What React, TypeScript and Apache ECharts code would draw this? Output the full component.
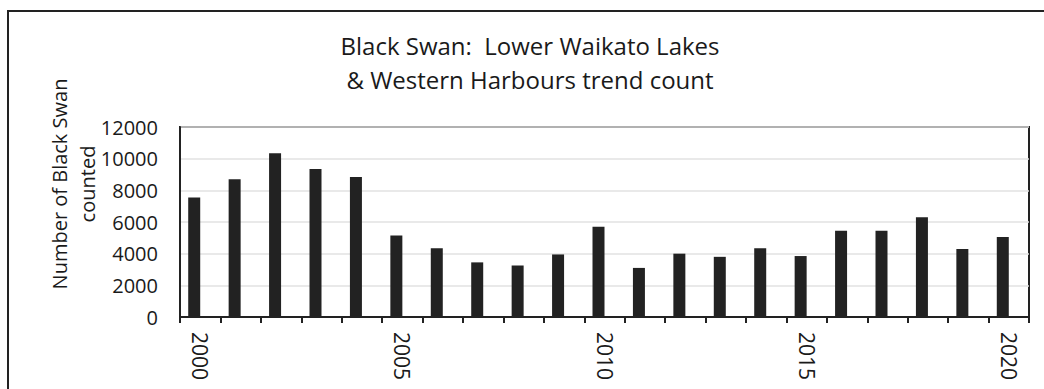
import React, { useEffect, useRef } from "react";
import * as echarts from "echarts";

const years: string[] = [
  "2000", "2001", "2002", "2003", "2004", "2005", "2006", "2007", "2008", "2009", "2010",
  "2011", "2012", "2013", "2014", "2015", "2016", "2017", "2018", "2019", "2020",
];
const swanCounts: number[] = [
  7550, 8700, 10350, 9350, 8850, 5150, 4350, 3450, 3250, 3950, 5700,
  3100, 4000, 3800, 4350, 3850, 5450, 5450, 6300, 4300, 5050,
];
const titleLines: string[] = ["Black Swan:  Lower Waikato Lakes", "& Western Harbours trend count"];
const yAxisNameLines: string[] = ["Number of Black Swan", "counted"];

export default function App() {
  const ref = useRef<HTMLDivElement>(null);
  useEffect(() => {
    document.body.style.margin = "0";
    if (!ref.current) return;
    const chart = echarts.init(ref.current, null, { renderer: "svg" });
    const font = "'Open Sans', 'Noto Sans', sans-serif";
    chart.setOption({
      animation: false,
      backgroundColor: "#ffffff",
      title: {
        text: titleLines.join("\n"),
        left: 525,
        top: 23,
        textAlign: "center",
        textStyle: {
          fontFamily: font,
          fontSize: 24,
          fontWeight: "normal",
          color: "#1a1a1a",
          lineHeight: 34,
        },
      },
      graphic: [
        {
          type: "rect",
          shape: { x: 8, y: 11, width: 1200, height: 600 },
          style: { fill: "none", stroke: "#222", lineWidth: 2 },
          silent: true,
        },
        {
          type: "text",
          x: 73,
          y: 184,
          rotation: Math.PI / 2,
          style: {
            text: yAxisNameLines.join("\n"),
            fontFamily: font,
            fontSize: 20,
            lineHeight: 28,
            fill: "#1a1a1a",
            align: "center",
            verticalAlign: "middle",
          },
        },
      ],
      grid: {
        left: 180,
        right: 15,
        top: 127,
        bottom: 72,
        show: true,
        borderColor: "#222",
        borderWidth: 2,
        backgroundColor: "transparent",
      },
      xAxis: {
        type: "category",
        data: years,
        boundaryGap: true,
        axisLine: { show: true, lineStyle: { color: "#222", width: 2 } },
        axisTick: { show: true, interval: 0, length: 6, alignWithLabel: false, lineStyle: { color: "#222", width: 2 } },
        axisLabel: {
          interval: 4,
          rotate: -90,
          margin: 15,
          fontFamily: font,
          fontSize: 21,
          color: "#1a1a1a",
        },
        splitLine: { show: false },
      },
      yAxis: {
        type: "value",
        min: 0,
        max: 12000,
        interval: 2000,
        axisLine: { show: true, lineStyle: { color: "#222", width: 2 } },
        axisTick: { show: false },
        axisLabel: {
          margin: 22,
          fontFamily: font,
          fontSize: 20,
          color: "#1a1a1a",
          formatter: (v: number) => String(v),
        },
        splitLine: { show: true, lineStyle: { color: "#e2e2e2", width: 1.5 } },
      },
      series: [
        {
          type: "bar",
          data: swanCounts,
          barWidth: 12,
          barGap: "0%",
          itemStyle: { color: "#222222" },
        },
        {
          type: "bar",
          data: [],
          barWidth: 12,
          barGap: "0%",
        },
      ],
    });
    return () => chart.dispose();
  }, []);
  return <div ref={ref} style={{ width: 1044, height: 389 }} />;
}
